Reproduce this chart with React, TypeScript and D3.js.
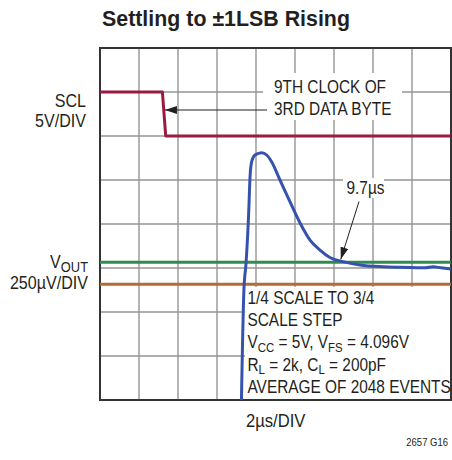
import React from 'react';
import * as d3 from 'd3';

// blue trace: time (µs) vs VOUT relative to final value (µV)
const voutTime = [7.24, 7.38, 7.49, 7.62, 7.7, 7.78, 7.95, 8.29, 8.55, 8.8, 9.23, 9.74, 10.26, 10.77, 11.28, 11.79, 12.46, 13.33, 14.51, 15.38, 16.26, 16.67, 17.08, 17.49, 18];
const voutUv = [-805, -95, 58, 330, 560, 634, 672, 685, 672, 634, 530, 407, 286, 189, 132, 90, 66, 47, 37, 34, 32, 31, 37, 31, 24];

// SCL trace: time (µs) vs volts
const sclTime = [0, 3.2, 3.37, 18];
const sclVolts = [5, 5, 0, 0];

// ±1LSB band (µV)
const lsbUv = 62.5;

const titleText = 'Settling to ±1LSB Rising';
const noteClock = ['9TH CLOCK OF', '3RD DATA BYTE'];
const settleLabel = '9.7µs';
const settleTime = 12.4;

const W = 452;
const H = 460;
const plot = { left: 100, top: 48, right: 451, bottom: 400 };

const x = d3.scaleLinear().domain([0, 18]).range([plot.left, plot.right]);
const yDiv = d3.scaleLinear().domain([0, 8]).range([plot.bottom, plot.top]);
const yV = d3.scaleLinear().domain([-720, 1280]).range([plot.bottom, plot.top]);
const yScl = d3.scaleLinear().domain([-30, 10]).range([plot.bottom, plot.top]);

const font = '"Liberation Sans", Arial, sans-serif';
const ink = '#231f20';

const Label: React.FC<{
  x: number; y: number; size?: number; sx?: number; anchor?: string; weight?: string; children: React.ReactNode;
}> = ({ x, y, size = 17.5, sx = 0.88, anchor = 'start', weight = 'normal', children }) => (
  <text
    transform={`translate(${x},${y}) scale(${sx},1)`}
    fontFamily={font}
    fontSize={size}
    fontWeight={weight}
    textAnchor={anchor}
    fill={ink}
  >
    {children}
  </text>
);

const App: React.FC = () => {
  const line = d3
    .line<number>()
    .x((_, i) => x(voutTime[i]))
    .y(d => yV(d))
    .curve(d3.curveMonotoneX);
  const sclLine = d3
    .line<number>()
    .x((_, i) => x(sclTime[i]))
    .y(d => yScl(d));

  const vTicks = d3.range(0, 18.01, 2);
  const hTicks = d3.range(0, 8.01, 1);

  const arrowTip = { x: x(3.33), y: 110 };
  const settleX = x(settleTime);

  return (
    <svg width={W} height={H} style={{ position: 'absolute', left: 0, top: 0, background: '#fff' }}>
      <defs>
        <clipPath id="plotClip">
          <rect x={plot.left} y={plot.top} width={plot.right - plot.left} height={plot.bottom - plot.top} />
        </clipPath>
        <marker id="head" viewBox="0 0 12 8" refX="12" refY="4" markerWidth="12" markerHeight="8" markerUnits="userSpaceOnUse" orient="auto">
          <path d="M0,0 L12,4 L0,8 Z" fill={ink} />
        </marker>
      </defs>

      <Label x={102} y={26} size={23} sx={0.93} weight="bold">{titleText}</Label>

      {/* grid */}
      <g stroke="#959595" strokeWidth={1.4}>
        {vTicks.map(t => (
          <line key={'v' + t} x1={x(t)} x2={x(t)} y1={plot.top} y2={plot.bottom} />
        ))}
        {hTicks.map(d => (
          <line key={'h' + d} x1={plot.left} x2={plot.right} y1={yDiv(d)} y2={yDiv(d)} />
        ))}
      </g>

      {/* white masks behind annotations */}
      <g fill="#fff">
        <rect x={263} y={73} width={139} height={47} />
        <rect x={343} y={178} width={41} height={20} />
        <rect x={245} y={287} width={plot.right - 245} height={plot.bottom - 287} />
      </g>

      <rect x={plot.left} y={plot.top} width={plot.right - plot.left} height={plot.bottom - plot.top} fill="none" stroke="#333" strokeWidth={2} />

      {/* traces */}
      <g clipPath="url(#plotClip)" fill="none" strokeWidth={3}>
        <line x1={plot.left} x2={plot.right} y1={yV(lsbUv)} y2={yV(lsbUv)} stroke="#2f8c4c" />
        <line x1={plot.left} x2={plot.right} y1={yV(-lsbUv)} y2={yV(-lsbUv)} stroke="#b86a30" />
        <path d={sclLine(sclVolts) || ''} stroke="#9a1a40" strokeLinejoin="round" />
        <path d={line(voutUv) || ''} stroke="#3553ad" strokeLinejoin="round" strokeLinecap="round" />
      </g>

      {/* left labels */}
      <Label x={86} y={107} anchor="end" sx={0.92}>SCL</Label>
      <Label x={86} y={127} anchor="end" sx={0.92}>5V/DIV</Label>
      <Label x={88} y={268} anchor="end" sx={0.92}>
        V<tspan fontSize={14} dy={3.5}>OUT</tspan>
      </Label>
      <Label x={88} y={289} anchor="end" sx={0.92}>250µV/DIV</Label>

      {/* clock annotation */}
      <Label x={274} y={93}>{noteClock[0]}</Label>
      <Label x={274} y={115}>{noteClock[1]}</Label>
      <line x1={267} y1={arrowTip.y} x2={arrowTip.x} y2={arrowTip.y} stroke={ink} strokeWidth={1} markerEnd="url(#head)" />

      {/* settling annotation */}
      <Label x={346.5} y={194}>{settleLabel}</Label>
      <line x1={359} y1={201.5} x2={settleX - 1} y2={yV(40) - 7} stroke={ink} strokeWidth={1} markerEnd="url(#head)" />

      {/* conditions */}
      <Label x={247.5} y={303.5}>1/4 SCALE TO 3/4</Label>
      <Label x={247.5} y={326}>SCALE STEP</Label>
      <Label x={247.5} y={348}>
        V<tspan fontSize={13} dy={3.5}>CC</tspan>
        <tspan dy={-3.5}> = 5V, V</tspan>
        <tspan fontSize={13} dy={3.5}>FS</tspan>
        <tspan dy={-3.5}> = 4.096V</tspan>
      </Label>
      <Label x={247.5} y={370.5}>
        R<tspan fontSize={13} dy={3.5}>L</tspan>
        <tspan dy={-3.5}> = 2k, C</tspan>
        <tspan fontSize={13} dy={3.5}>L</tspan>
        <tspan dy={-3.5}> = 200pF</tspan>
      </Label>
      <Label x={247.5} y={393}>AVERAGE OF 2048 EVENTS</Label>

      <Label x={246} y={427} sx={0.95}>2µs/DIV</Label>
      <Label x={448} y={446} size={10} sx={0.95} anchor="end">2657 G16</Label>
    </svg>
  );
};

export default App;
